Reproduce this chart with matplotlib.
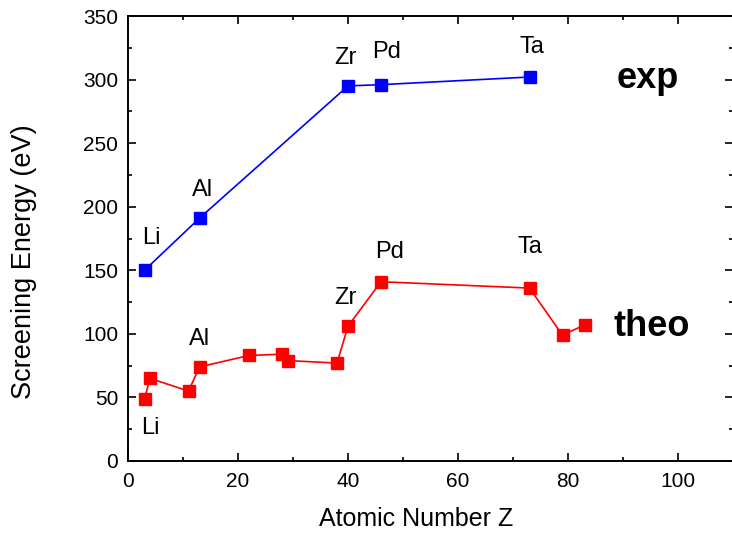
import matplotlib.pyplot as plt
from matplotlib.ticker import MultipleLocator

plt.rcParams['font.family'] = ['Liberation Sans', 'DejaVu Sans']

# experimental screening energies
exp_z = [3, 13, 40, 46, 73]
exp_e = [150, 191, 295, 296, 302]

# theoretical screening energies
theo_z = [3, 4, 11, 13, 22, 28, 29, 38, 40, 46, 73, 79, 83]
theo_e = [49, 65, 55, 74, 83, 84, 79, 77, 106, 141, 136, 99, 107]

fig = plt.figure(figsize=(7.32, 5.36), dpi=100)
ax = fig.add_axes([128/732, 1-461/536, 605/732, 445/536])

ax.plot(exp_z, exp_e, '-', color='blue', lw=1.2, marker='s', ms=9,
        mfc='blue', mec='blue', clip_on=False)
ax.plot(theo_z, theo_e, '-', color='red', lw=1.2, marker='s', ms=9,
        mfc='red', mec='red', clip_on=False)

fs = 17
# element labels (exp)
ax.text(4.3, 175, 'Li', fontsize=fs, ha='center', va='center')
ax.text(13.5, 213, 'Al', fontsize=fs, ha='center', va='center')
ax.text(39.5, 317, 'Zr', fontsize=fs, ha='center', va='center')
ax.text(47.0, 322, 'Pd', fontsize=fs, ha='center', va='center')
ax.text(73.5, 326, 'Ta', fontsize=fs, ha='center', va='center')
# element labels (theo)
ax.text(4.0, 26, 'Li', fontsize=fs, ha='center', va='center')
ax.text(13.0, 96, 'Al', fontsize=fs, ha='center', va='center')
ax.text(39.5, 128, 'Zr', fontsize=fs, ha='center', va='center')
ax.text(47.5, 164, 'Pd', fontsize=fs, ha='center', va='center')
ax.text(73.0, 168, 'Ta', fontsize=fs, ha='center', va='center')

ax.text(94.5, 301, 'exp', fontsize=26, fontweight='bold', ha='center', va='center')
ax.text(95.2, 106, 'theo', fontsize=26, fontweight='bold', ha='center', va='center')

ax.set_xlim(0, 110)
ax.set_ylim(0, 350)
ax.xaxis.set_major_locator(MultipleLocator(20))
ax.xaxis.set_minor_locator(MultipleLocator(10))
ax.yaxis.set_major_locator(MultipleLocator(50))
ax.yaxis.set_minor_locator(MultipleLocator(25))
ax.tick_params(which='both', direction='in', top=True, right=True,
               labelsize=15, width=1.2)
ax.tick_params(which='major', length=6)
ax.tick_params(which='minor', length=3)
ax.tick_params(axis='y', which='major', pad=7)
ax.tick_params(axis='x', which='major', pad=8)
for s in ax.spines.values():
    s.set_linewidth(1.4)

ax.set_xlabel('Atomic Number Z', fontsize=18)
ax.xaxis.set_label_coords(0.476, -0.103)
ax.set_ylabel('Screening Energy (eV)', fontsize=19.5)
ax.yaxis.set_label_coords(-0.150, 0.447)

fig.savefig('out.png', dpi=100)
